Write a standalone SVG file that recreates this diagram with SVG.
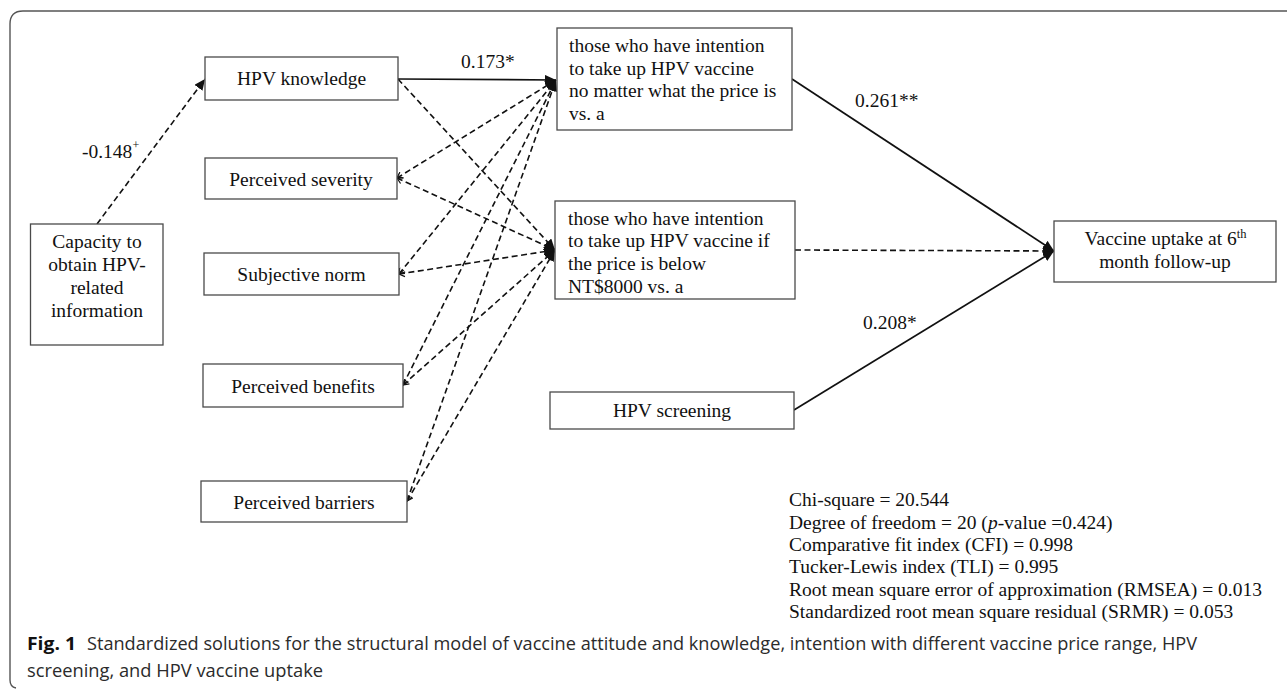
<svg xmlns="http://www.w3.org/2000/svg" width="1287" height="689" viewBox="0 0 1287 689">
<style>
  .box { fill: #ffffff; stroke: #4a4a4a; stroke-width: 1.3; }
  .t { font-family: "Liberation Serif", "Times New Roman", serif; font-size: 19.5px; fill: #111; }
  .c { text-anchor: middle; }
  .solid { fill: none; stroke: #111; stroke-width: 1.7; }
  .dash { fill: none; stroke: #111; stroke-width: 1.6; stroke-dasharray: 6 3.5; }
  .cap { font-family: "Open Sans", "Noto Sans", "Liberation Sans", sans-serif; font-size: 17.5px; fill: #2b2b2b; }
  .capb { font-family: "Open Sans", "Noto Sans", "Liberation Sans", sans-serif; font-size: 17.5px; font-weight: bold; fill: #111; }
</style>
<defs>
  <marker id="ah" markerUnits="userSpaceOnUse" markerWidth="12" markerHeight="10" refX="11" refY="5" orient="auto">
    <path d="M0,0 L11,5 L0,10 Z" fill="#111"/>
  </marker>
  <marker id="tail" markerUnits="userSpaceOnUse" markerWidth="8" markerHeight="8" refX="0.5" refY="3.5" orient="auto">
    <path d="M6,0 L0.5,3.5 L6,7" fill="none" stroke="#111" stroke-width="1.2"/>
  </marker>
</defs>

<path d="M1287,11 H23 Q10,11 10,24 V680 Q10,687 16,688" fill="none" stroke="#555" stroke-width="1.4"/>

<g id="connectors">
  <line class="dash" x1="97" y1="224" x2="205" y2="79" marker-end="url(#ah)"/>
  <line class="solid" x1="398" y1="79" x2="556" y2="80" marker-end="url(#ah)"/>
  <line class="dash" x1="398" y1="79" x2="555" y2="250" marker-end="url(#ah)"/>
  <line class="dash" x1="397" y1="178" x2="556" y2="80" marker-start="url(#tail)" marker-end="url(#ah)"/>
  <line class="dash" x1="397" y1="178" x2="555" y2="250" marker-start="url(#tail)" marker-end="url(#ah)"/>
  <line class="dash" x1="399" y1="274" x2="556" y2="80" marker-start="url(#tail)" marker-end="url(#ah)"/>
  <line class="dash" x1="399" y1="274" x2="555" y2="250" marker-start="url(#tail)" marker-end="url(#ah)"/>
  <line class="dash" x1="403" y1="385" x2="556" y2="80" marker-start="url(#tail)" marker-end="url(#ah)"/>
  <line class="dash" x1="403" y1="385" x2="555" y2="250" marker-start="url(#tail)" marker-end="url(#ah)"/>
  <line class="dash" x1="407" y1="501" x2="556" y2="80" marker-start="url(#tail)" marker-end="url(#ah)"/>
  <line class="dash" x1="407" y1="501" x2="555" y2="250" marker-start="url(#tail)" marker-end="url(#ah)"/>
  <line class="solid" x1="792" y1="79" x2="1054" y2="251" marker-end="url(#ah)"/>
  <line class="dash" x1="795" y1="250" x2="1054" y2="251" marker-end="url(#ah)"/>
  <line class="solid" x1="794" y1="410" x2="1054" y2="251" marker-end="url(#ah)"/>
  <text class="t" x="82" y="158">-0.148<tspan font-size="12" dy="-9">+</tspan></text>
  <text class="t" x="461" y="68">0.173*</text>
  <text class="t" x="855" y="107">0.261**</text>
  <text class="t" x="863" y="329">0.208*</text>
</g>

<g id="capacity">
  <rect class="box" x="30.5" y="224" width="132.5" height="121"/>
  <text class="t c" x="97" y="248">Capacity to</text>
  <text class="t c" x="97" y="271">obtain HPV-</text>
  <text class="t c" x="97" y="293.5">related</text>
  <text class="t c" x="97" y="316.5">information</text>
</g>
<g id="knowledge">
  <rect class="box" x="205" y="57" width="193" height="43"/>
  <text class="t c" x="301.5" y="85">HPV knowledge</text>
</g>
<g id="severity">
  <rect class="box" x="205" y="158" width="192" height="41"/>
  <text class="t c" x="301" y="185.5">Perceived severity</text>
</g>
<g id="norm">
  <rect class="box" x="204" y="253" width="195" height="42"/>
  <text class="t c" x="301.5" y="281">Subjective norm</text>
</g>
<g id="benefits">
  <rect class="box" x="203" y="364" width="200" height="43"/>
  <text class="t c" x="303" y="392.5">Perceived benefits</text>
</g>
<g id="barriers">
  <rect class="box" x="201" y="481" width="206" height="41"/>
  <text class="t c" x="304" y="508.5">Perceived barriers</text>
</g>
<g id="intention1">
  <rect class="box" x="557" y="28" width="235" height="102"/>
  <text class="t" x="569" y="52">those who have intention</text>
  <text class="t" x="569" y="74.5">to take up HPV vaccine</text>
  <text class="t" x="569" y="97">no matter what the price is</text>
  <text class="t" x="569" y="119.5">vs. a</text>
</g>
<g id="intention2">
  <rect class="box" x="555" y="201" width="240" height="98"/>
  <text class="t" x="568" y="224.5">those who have intention</text>
  <text class="t" x="568" y="247">to take up HPV vaccine if</text>
  <text class="t" x="568" y="269.5">the price is below</text>
  <text class="t" x="568" y="292.5">NT$8000 vs. a</text>
</g>
<g id="screening">
  <rect class="box" x="550" y="392" width="244" height="37"/>
  <text class="t c" x="672" y="417">HPV screening</text>
</g>
<g id="uptake">
  <rect class="box" x="1054" y="221" width="222" height="61"/>
  <text class="t c" x="1165.5" y="245">Vaccine uptake at 6<tspan font-size="12.5" dy="-7">th</tspan></text>
  <text class="t c" x="1165" y="268">month follow-up</text>
</g>

<g id="fit-stats">
  <text class="t" x="789" y="506">Chi-square = 20.544</text>
  <text class="t" x="789" y="528.5">Degree of freedom = 20 (<tspan font-style="italic">p</tspan>-value =0.424)</text>
  <text class="t" x="789" y="551">Comparative fit index (CFI) = 0.998</text>
  <text class="t" x="789" y="573">Tucker-Lewis index (TLI) = 0.995</text>
  <text class="t" x="789" y="595.5">Root mean square error of approximation (RMSEA) = 0.013</text>
  <text class="t" x="789" y="618">Standardized root mean square residual (SRMR) = 0.053</text>
</g>

<g id="caption">
  <text class="capb" x="27" y="650" textLength="49" lengthAdjust="spacingAndGlyphs">Fig. 1</text>
  <text class="cap" x="87" y="650" textLength="1110" lengthAdjust="spacingAndGlyphs">Standardized solutions for the structural model of vaccine attitude and knowledge, intention with different vaccine price range, HPV</text>
  <text class="cap" x="27" y="677" textLength="296" lengthAdjust="spacingAndGlyphs">screening, and HPV vaccine uptake</text>
</g>
</svg>
